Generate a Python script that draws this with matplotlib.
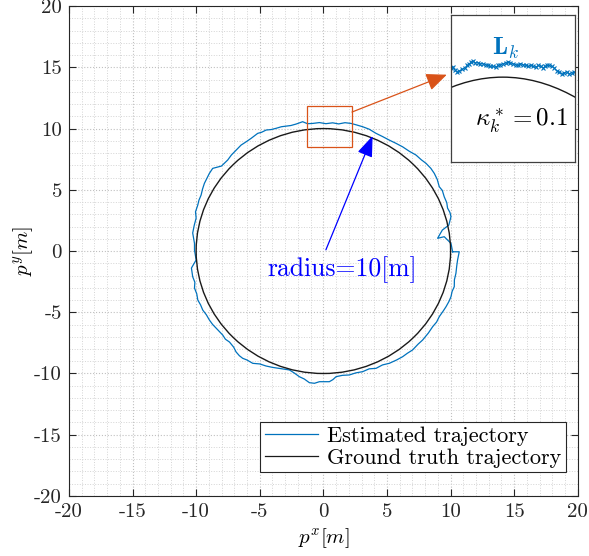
import matplotlib
matplotlib.use("Agg")
import matplotlib.pyplot as plt
from matplotlib.lines import Line2D
from matplotlib.patches import Circle, Rectangle
from matplotlib.ticker import FixedLocator, FixedFormatter, MultipleLocator

plt.rcParams.update({
    "font.family": "serif",
    "font.serif": ["cmr10", "DejaVu Serif"],
    "mathtext.fontset": "cm",
    "axes.unicode_minus": False,
    "axes.formatter.use_mathtext": True,
})

BLUE = "#0072BD"
ORANGE = "#D95319"

RADIUS = 10.0

# estimated trajectory (metres)
EST_X = [10.16, 10.68, 10.55, 10.48, 10.42, 10.30, 10.29, 10.12, 10.03, 9.88,
         9.64, 9.42, 9.11, 8.90, 8.59, 8.25, 7.80, 7.45, 7.01, 6.60,
         6.23, 5.75, 5.18, 4.65, 4.14, 3.60, 3.09, 2.55, 2.04, 1.50,
         1.00, 0.75, 0.47, -0.31, -0.70, -1.10, -1.50, -1.89, -2.30, -2.67,
         -3.46, -4.00, -4.50, -5.00, -5.55, -6.00, -6.34, -6.60, -6.86, -7.05,
         -7.38, -7.70, -7.91, -8.15, -8.43, -8.70, -8.96, -9.20, -9.48, -9.65,
         -9.87, -9.95, -10.13, -10.10, -10.27, -10.37, -10.00, -10.13, -10.13, -10.20,
         -10.27, -10.15, -10.00, -10.05, -9.87, -9.78, -9.61, -9.50, -9.35, -9.15,
         -8.96, -8.70, -8.01, -7.52, -7.23, -6.86, -6.47, -6.07, -5.68, -5.16,
         -4.85, -4.50, -4.10, -3.72, -3.30, -2.93, -2.55, -2.14, -1.63, -1.25,
         -0.84, -0.31, 0.20, 0.73, 1.20, 1.70, 2.18, 2.60, 3.09, 3.60,
         4.14, 4.65, 5.18, 5.70, 6.23, 6.75, 7.28, 7.70, 8.07, 8.45,
         8.72, 8.95, 9.11, 9.35, 9.50, 9.70, 9.76, 9.95, 10.03, 9.86,
         9.35, 8.98, 9.50, 10.03, 10.16]
EST_Y = [-0.06, -0.06, -0.73, -1.25, -1.82, -2.35, -2.91, -3.30, -3.73, -4.10,
         -4.55, -4.90, -5.36, -5.80, -6.18, -6.70, -7.27, -7.60, -8.08, -8.35,
         -8.63, -8.90, -9.17, -9.30, -9.58, -9.62, -9.85, -9.95, -10.12, -10.15,
         -10.26, -10.50, -10.67, -10.67, -10.80, -10.75, -10.45, -10.26, -9.95, -9.71,
         -9.58, -9.50, -9.39, -9.22, -9.17, -8.90, -8.76, -8.55, -8.24, -7.85,
         -7.43, -7.20, -6.86, -6.60, -6.29, -6.00, -5.63, -5.20, -4.82, -4.40,
         -4.00, -3.50, -3.02, -2.55, -2.10, -1.39, -0.73, 0.08, 0.63, 1.05,
         1.47, 2.10, 2.69, 3.20, 3.76, 4.15, 4.57, 5.05, 5.53, 5.95,
         6.34, 6.75, 6.94, 7.43, 7.84, 8.24, 8.65, 8.92, 9.20, 9.61,
         9.70, 9.88, 9.92, 10.02, 10.15, 10.20, 10.25, 10.37, 10.56, 10.40,
         10.42, 10.49, 10.40, 10.47, 10.38, 10.48, 10.42, 10.30, 10.15, 9.95,
         9.61, 9.35, 9.06, 8.80, 8.51, 8.15, 7.84, 7.45, 7.16, 6.75,
         6.34, 5.85, 5.25, 4.95, 4.43, 3.95, 3.51, 3.15, 2.80, 2.12,
         1.71, 1.04, 1.17, 0.63, -0.06]

# local window L_k shown in the inset
LK_X = [-1.50, -1.45, -1.40, -1.33, -1.26, -1.18, -1.11, -1.04, -0.97, -0.92,
        -0.87, -0.80, -0.72, -0.65, -0.58, -0.50, -0.43, -0.36, -0.29, -0.21,
        -0.14, -0.07, 0.01, 0.08, 0.15, 0.22, 0.30, 0.37, 0.44, 0.51,
        0.59, 0.66, 0.74, 0.81, 0.88, 0.95, 1.03, 1.10, 1.17, 1.22,
        1.27, 1.35, 1.42, 1.50, 1.57, 1.64, 1.71, 1.78, 1.86, 1.93,
        2.00, 2.06]
LK_Y = [10.10, 10.11, 10.08, 10.06, 10.07, 10.09, 10.10, 10.13, 10.15, 10.17,
        10.18, 10.16, 10.16, 10.15, 10.15, 10.14, 10.13, 10.12, 10.12, 10.11,
        10.13, 10.14, 10.15, 10.16, 10.17, 10.16, 10.15, 10.14, 10.13, 10.15,
        10.14, 10.13, 10.12, 10.13, 10.12, 10.11, 10.13, 10.12, 10.10, 10.12,
        10.13, 10.13, 10.12, 10.10, 10.07, 10.06, 10.04, 10.05, 10.06, 10.04,
        10.05, 10.06]

ZOOM_BOX = (-1.3, 8.5, 3.55, 3.35)  # x, y, width, height
TICKS = [-20, -15, -10, -5, 0, 5, 10, 15, 20]
TICK_LABELS = ["-20", "-15", "-10", "-5", "0", "5", "10", "15", "20"]


def style_axes(ax):
    ax.set_xlim(-20, 20)
    ax.set_ylim(-20, 20)
    for axis in (ax.xaxis, ax.yaxis):
        axis.set_major_locator(FixedLocator(TICKS))
        axis.set_major_formatter(FixedFormatter(TICK_LABELS))
        axis.set_minor_locator(MultipleLocator(1))
    ax.tick_params(which="major", direction="in", length=5, width=0.8,
                   top=True, right=True, labelsize=15, colors="#262626",
                   pad=5)
    ax.tick_params(which="minor", length=0, top=True, right=True)
    ax.grid(which="major", color="#c0c0c0", linestyle=":", linewidth=0.8)
    ax.grid(which="minor", color="#d4d4d4", linestyle=":", linewidth=0.7)
    ax.set_axisbelow(True)
    for sp in ax.spines.values():
        sp.set_color("#262626")
        sp.set_linewidth(0.8)


def main():
    fig = plt.figure(figsize=(5.89, 5.56), dpi=100)
    ax = fig.add_axes([0.117, 0.108, 0.864, 0.881])
    style_axes(ax)

    ax.plot(EST_X, EST_Y, color=BLUE, lw=0.9, zorder=3)
    ax.add_patch(Circle((0, 0), RADIUS, fill=False, edgecolor="#1a1a1a", lw=1.0, zorder=3))

    bx, by, bw, bh = ZOOM_BOX
    ax.add_patch(Rectangle((bx, by), bw, bh, fill=False, edgecolor=ORANGE, lw=0.9, zorder=4))

    ax.annotate("", xy=(9.7, 14.4), xytext=(2.25, 11.35),
                arrowprops=dict(arrowstyle="-|>,head_length=0.7,head_width=0.3",
                                color=ORANGE, lw=0.9, mutation_scale=18,
                                shrinkA=0, shrinkB=0), zorder=5)
    ax.annotate("", xy=(3.87, 9.4), xytext=(0.2, 0.1),
                arrowprops=dict(arrowstyle="-|>,head_length=0.8,head_width=0.3",
                                color="blue", lw=0.9, mutation_scale=16,
                                shrinkA=0, shrinkB=0), zorder=5)
    ax.text(1.5, -1.55, "radius=10[m]", color="blue", fontsize=18.5,
            ha="center", va="center", zorder=5)

    ax.set_xlabel(r"$p^x[m]$", fontsize=15, labelpad=4)
    ax.set_ylabel(r"$p^y[m]$", fontsize=15, labelpad=-1)

    handles = [Line2D([], [], color=BLUE, lw=0.9),
               Line2D([], [], color="#1a1a1a", lw=0.9)]
    leg = ax.legend(handles, ["Estimated trajectory", "Ground truth trajectory"],
                    loc="lower right", bbox_to_anchor=(0.976, 0.049),
                    borderaxespad=0, fontsize=16, fancybox=False,
                    edgecolor="#262626", framealpha=1, handlelength=2.4,
                    handletextpad=0.4, borderpad=0.2, labelspacing=0.1)
    leg.get_frame().set_linewidth(0.8)

    # inset with the local window
    ins = fig.add_axes([0.766, 0.709, 0.2105, 0.264])
    ins.set_xlim(-1.5, 2.1)
    ins.set_ylim(9.06, 10.69)
    ins.set_xticks([])
    ins.set_yticks([])
    for sp in ins.spines.values():
        sp.set_color("#404040")
        sp.set_linewidth(0.9)
    ins.add_patch(Circle((0, 0), RADIUS, fill=False, edgecolor="#1a1a1a", lw=1.0))
    ins.plot(LK_X, LK_Y, color=BLUE, lw=0.6, marker="x", markersize=3,
             markeredgewidth=0.8)
    ins.text(0.08, 10.32, r"$\mathbf{L}_k$", color=BLUE, fontsize=18,
             ha="center", va="center")
    ins.text(0.54, 9.52, r"$\kappa_k^* = 0.1$", color="black", fontsize=18,
             ha="center", va="center")

    fig.savefig("out.png", dpi=100)
    plt.close(fig)


if __name__ == "__main__":
    main()
